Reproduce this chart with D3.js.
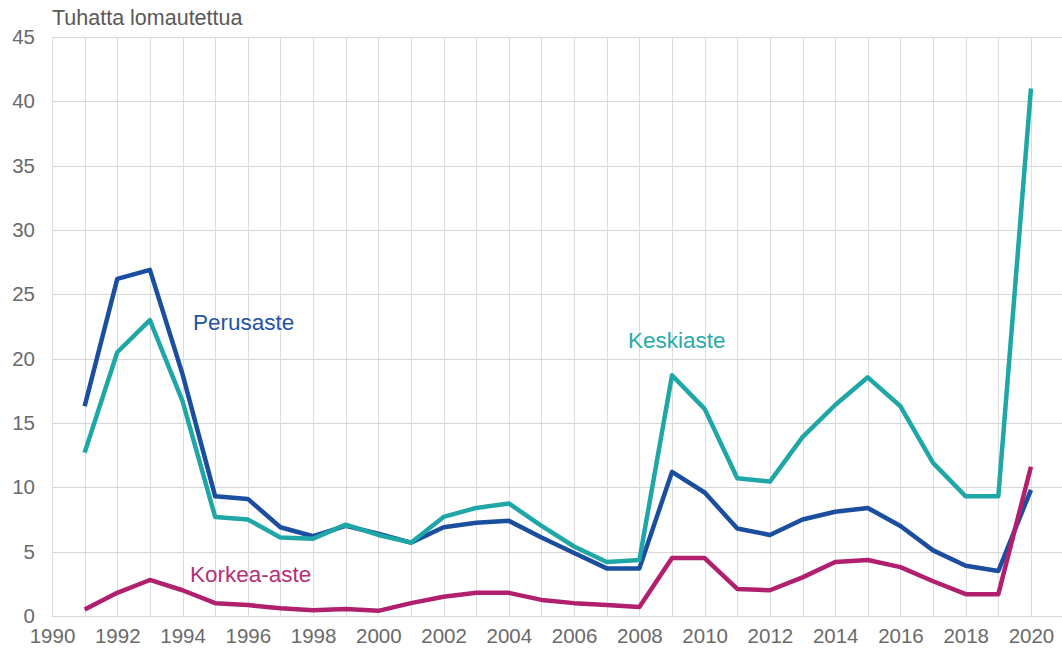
<!DOCTYPE html>
<html>
<head>
<meta charset="utf-8">
<script src="https://cdn.jsdelivr.net/npm/d3@7"></script>
<style>
html,body{margin:0;padding:0;background:#fff;}
svg{display:block;font-family:"Liberation Sans",Arial,sans-serif;}
</style>
</head>
<body>
<svg id="chart" width="1062" height="657"></svg>
<script>
const years = d3.range(1991, 2021);
const perusaste = [16.3,26.2,26.9,18.8,9.3,9.1,6.9,6.2,7.0,6.4,5.7,6.9,7.25,7.4,6.1,4.9,3.7,3.7,11.2,9.6,6.8,6.3,7.5,8.1,8.4,7.0,5.1,3.9,3.5,9.8];
const keskiaste = [12.7,20.5,23.0,16.7,7.7,7.5,6.1,6.0,7.1,6.3,5.7,7.7,8.4,8.75,7.0,5.4,4.2,4.35,18.7,16.1,10.7,10.45,13.9,16.4,18.55,16.3,11.9,9.3,9.3,41.0];
const korkea = [0.5,1.8,2.8,2.0,1.0,0.85,0.6,0.45,0.55,0.4,1.0,1.5,1.8,1.8,1.25,1.0,0.85,0.7,4.5,4.5,2.1,2.0,3.0,4.2,4.35,3.8,2.7,1.7,1.7,11.6];
const yTicks = [0,5,10,15,20,25,30,35,40,45];
const xTickYears = d3.range(1990, 2021, 2);
const seriesNames = ["Perusaste","Keskiaste","Korkea-aste"];
const seriesColors = ["#1c4ea0","#1fa6a6","#b0206e"];
const labelColors = ["#2453a3","#2aaaaa","#b3307a"];
const labelYears = [1994.32, 2007.65, 1994.23];
const labelValues = [22.2, 20.8, 2.64];
const title = "Tuhatta lomautettua";

const svg = d3.select("#chart");
const mLeft = 52, mRight = 1063.6, mTop = 37, mBottom = 616;
const x = d3.scaleLinear().domain([1990, 2021]).range([mLeft, mRight]);
const y = d3.scaleLinear().domain([0, 45]).range([mBottom, mTop]);

// grid
const g = svg.append("g");
g.selectAll("line.v").data(d3.range(1990, 2022)).join("line")
  .attr("x1", d => Math.round(x(d)) + 0.5).attr("x2", d => Math.round(x(d)) + 0.5)
  .attr("y1", mTop).attr("y2", mBottom)
  .attr("stroke", "#dcdcdc").attr("stroke-width", 1);
g.selectAll("line.h").data(yTicks).join("line")
  .attr("x1", mLeft).attr("x2", 1062)
  .attr("y1", d => Math.round(y(d)) + 0.5).attr("y2", d => Math.round(y(d)) + 0.5)
  .attr("stroke", "#d6d6d6").attr("stroke-width", 1);

// y axis labels
const yAxis = d3.axisLeft(y).tickValues(yTicks).tickSize(0).tickPadding(17);
const ya = svg.append("g").attr("transform", `translate(${mLeft},0)`).call(yAxis);
ya.select(".domain").remove();
ya.selectAll("text").attr("fill", "#6a6a6a").style("font-size", "20.5px")
  .style("font-family", "'Liberation Sans',Arial,sans-serif");

// x axis labels
const xAxis = d3.axisBottom(x).tickValues(xTickYears).tickFormat(d3.format("d")).tickSize(0).tickPadding(12);
const xa = svg.append("g").attr("transform", `translate(0,${mBottom})`).call(xAxis);
xa.select(".domain").remove();
xa.selectAll("text").attr("fill", "#6a6a6a").style("font-size", "20.5px")
  .style("font-family", "'Liberation Sans',Arial,sans-serif");

// title
svg.append("text").attr("x", mLeft).attr("y", 25).attr("fill", "#595959")
  .style("font-size", "21.5px").text(title);

// lines
const line = d3.line().x((d, i) => x(years[i])).y(d => y(d));
const allSeries = [perusaste, keskiaste, korkea];
svg.append("g").selectAll("path").data(allSeries).join("path")
  .attr("d", line)
  .attr("fill", "none")
  .attr("stroke", (d, i) => seriesColors[i])
  .attr("stroke-width", 4.5)
  .attr("stroke-linejoin", "round");

// labels
svg.append("g").selectAll("text").data(seriesNames).join("text")
  .attr("x", (d, i) => x(labelYears[i]))
  .attr("y", (d, i) => y(labelValues[i]))
  .attr("fill", (d, i) => labelColors[i])
  .style("font-size", "22.5px")
  .text(d => d);
</script>
</body>
</html>
